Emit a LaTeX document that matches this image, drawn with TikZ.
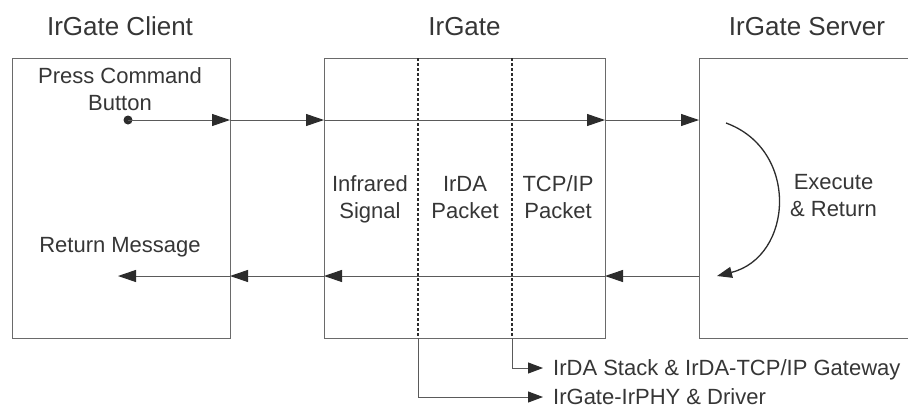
\documentclass[tikz,border=0pt]{standalone}
\usepackage{fontspec}
\setmainfont{Liberation Sans}
\usetikzlibrary{arrows.meta}
\definecolor{txt}{HTML}{363636}
\definecolor{edge}{HTML}{6A6A6A}
\definecolor{wire}{HTML}{5A5A5A}
\definecolor{ink}{HTML}{2C2C2C}
\begin{document}
\begin{tikzpicture}[x=1pt,y=-1pt,
  box/.style={draw=edge, line width=1pt, rectangle, inner sep=0pt, outer sep=0pt},
  title/.style={text=txt, font=\fontsize{26}{30}\selectfont, inner sep=0pt},
  lbl/.style={text=txt, font=\fontsize{22}{27}\selectfont, align=center, inner sep=0pt},
  flow/.style={draw=wire, line width=1pt, -{Triangle[length=18pt, width=12pt, color=ink]}},
  tap/.style={draw=wire, line width=1pt, -{Triangle[length=15pt, width=11pt, color=ink]}},
  divider/.style={draw=ink, line width=1.2pt, dash pattern=on 3pt off 2pt}]
\clip (0,0) rectangle (908,408);
\fill[white] (0,0) rectangle (908,408);

% the three blocks
\node[box, minimum width=218pt, minimum height=280pt] (client) at (121,198) {};
\node[box, minimum width=281pt, minimum height=280pt] (gate)   at (464.5,198) {};
\node[box, minimum width=240pt, minimum height=280pt] (server) at (819,198) {};

% headings
\node[title, anchor=base] (hclient) at (120,35)   {IrGate Client};
\node[title, anchor=base] (hgate)   at (464.5,35) {IrGate};
\node[title, anchor=base] (hserver) at (807,35)   {IrGate Server};

% labels inside the blocks (base = baseline of the last line)
\node[lbl, anchor=base] (press)  at (120,110) {Press Command\\Button};
\node[lbl, anchor=base] (retmsg) at (120,252) {Return Message};
\node[lbl, anchor=base] (ir)     at (370,218) {Infrared\\Signal};
\node[lbl, anchor=base] (irda)   at (465,218) {IrDA\\Packet};
\node[lbl, anchor=base] (tcp)    at (558,218) {TCP/IP\\Packet};
\node[lbl, anchor=base] (exec)   at (833.5,216) {Execute\\\& Return};

% layer dividers inside the gateway
\coordinate (div1) at (418,338);
\coordinate (div2) at (512,338);
\draw[divider] (div1 |- gate.north) -- (div1);
\draw[divider] (div2 |- gate.north) -- (div2);

% request path
\coordinate (start) at (128,120);
\fill[ink] (start) circle (4.5pt);
\draw[flow] (start) -- (client.east |- start);
\draw[flow] (client.east |- start) -- (gate.west |- start);
\draw[flow] (gate.west |- start) -- (gate.east |- start);
\draw[flow] (gate.east |- start) -- (server.west |- start);

% execution loop in the server
\coordinate (loopa) at (726,123);
\coordinate (loopb) at (717,276);
\draw[draw=ink, line width=1.3pt, -{Triangle[length=15pt, width=11pt, color=ink]}]
  (loopa) .. controls (800,150) and (793,257) .. (loopb);

% reply path
\coordinate (back) at (118,276);
\draw[flow] (server.west |- back) -- (gate.east |- back);
\draw[flow] (gate.east |- back) -- (gate.west |- back);
\draw[flow] (gate.west |- back) -- (client.east |- back);
\draw[flow] (client.east |- back) -- (back);

% software layer callouts
\node[lbl, anchor=base west] (stack) at (553,375) {IrDA Stack \& IrDA-TCP/IP Gateway};
\node[lbl, anchor=base west] (phy)   at (553,404) {IrGate-IrPHY \& Driver};
\coordinate (stackin) at (543,368);
\coordinate (phyin)   at (543,397);
\draw[tap] (div2) |- (stackin);
\draw[tap] (div1) |- (phyin);
\end{tikzpicture}
\end{document}
